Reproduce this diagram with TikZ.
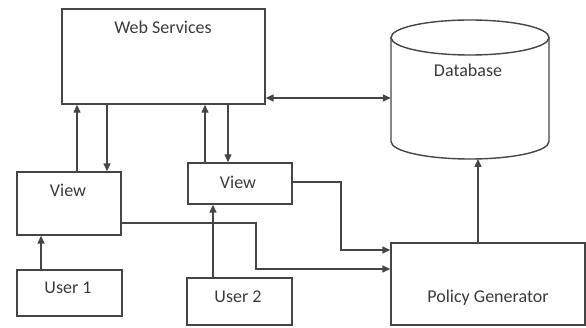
\documentclass[tikz,border=0pt]{standalone}
\usepackage{fontspec}
\setmainfont{Carlito}
\usetikzlibrary{arrows.meta,calc}
\definecolor{ln}{HTML}{454545}
\definecolor{tx}{HTML}{3A3A3A}
\begin{document}
\begin{tikzpicture}[x=1pt,y=1pt,
  box/.style={draw=ln,line width=1.4pt,minimum width=#1,inner sep=0pt},
  lbl/.style={text=tx,font=\fontsize{18}{21}\selectfont,inner sep=0pt},
  arr/.style={draw=ln,line width=1.4pt,-{Triangle[length=8pt,width=7pt]}},
  darr/.style={draw=ln,line width=1.4pt,{Triangle[length=8pt,width=7pt]}-{Triangle[length=8pt,width=7pt]}}]
\useasboundingbox (0,0) rectangle (586,327);
% boxes
\node[box=203pt,minimum height=95pt] (ws) at (163.5,270.5) {};
\node[box=104pt,minimum height=63pt] (v1) at (69,123.5) {};
\node[box=105pt,minimum height=46pt] (u1) at (69.5,34) {};
\node[box=104pt,minimum height=41pt] (v2) at (240,143.5) {};
\node[box=105pt,minimum height=47pt] (u2) at (239.5,25.5) {};
\node[box=194pt,minimum height=82pt] (pg) at (488,43) {};
% database
\node[minimum width=158pt,minimum height=121pt,inner sep=0pt] (db) at (470,228.5) {};
\draw[ln,line width=1.4pt] (391,289.5) -- (391,185.5) arc (180:360:79 and 17.5) -- (549,289.5);
\draw[ln,line width=1.4pt] (470,289.5) ellipse (79 and 17.5);
% labels
\node[lbl] (wst) at (163,300) {Web Services};
\node[lbl] (dbt) at (468,257) {Database};
\node[lbl] (v1t) at (68,137) {View};
\node[lbl] (u1t) at (68,39) {User 1};
\node[lbl] (v2t) at (238,145) {View};
\node[lbl] (u2t) at (238,30) {User 2};
\node[lbl] (pgt) at (488,29) {Policy Generator};
% connectors
\draw[arr] (v1.north -| 77,0) -- (ws.south -| 77,0);
\draw[arr] (ws.south -| 107,0) -- (v1.north -| 107,0);
\draw[arr] (v2.north -| 205,0) -- (ws.south -| 205,0);
\draw[arr] (ws.south -| 228,0) -- (v2.north -| 228,0);
\draw[arr] (u1.north -| 41,0) -- (v1.south -| 41,0);
\draw[arr] (u2.north -| 213,0) -- (v2.south -| 213,0);
\draw[darr] (ws.east |- 0,229) -- (db.west |- 0,229);
\draw[arr] (pg.north -| 478,0) -- (478,168);
\draw[arr] (v1.east |- 0,104) -- (256,104) -- (256,58) -- (pg.west |- 0,58);
\draw[arr] (v2.east |- 0,145) -- (341,145) -- (341,77) -- (pg.west |- 0,77);
\end{tikzpicture}
\end{document}
